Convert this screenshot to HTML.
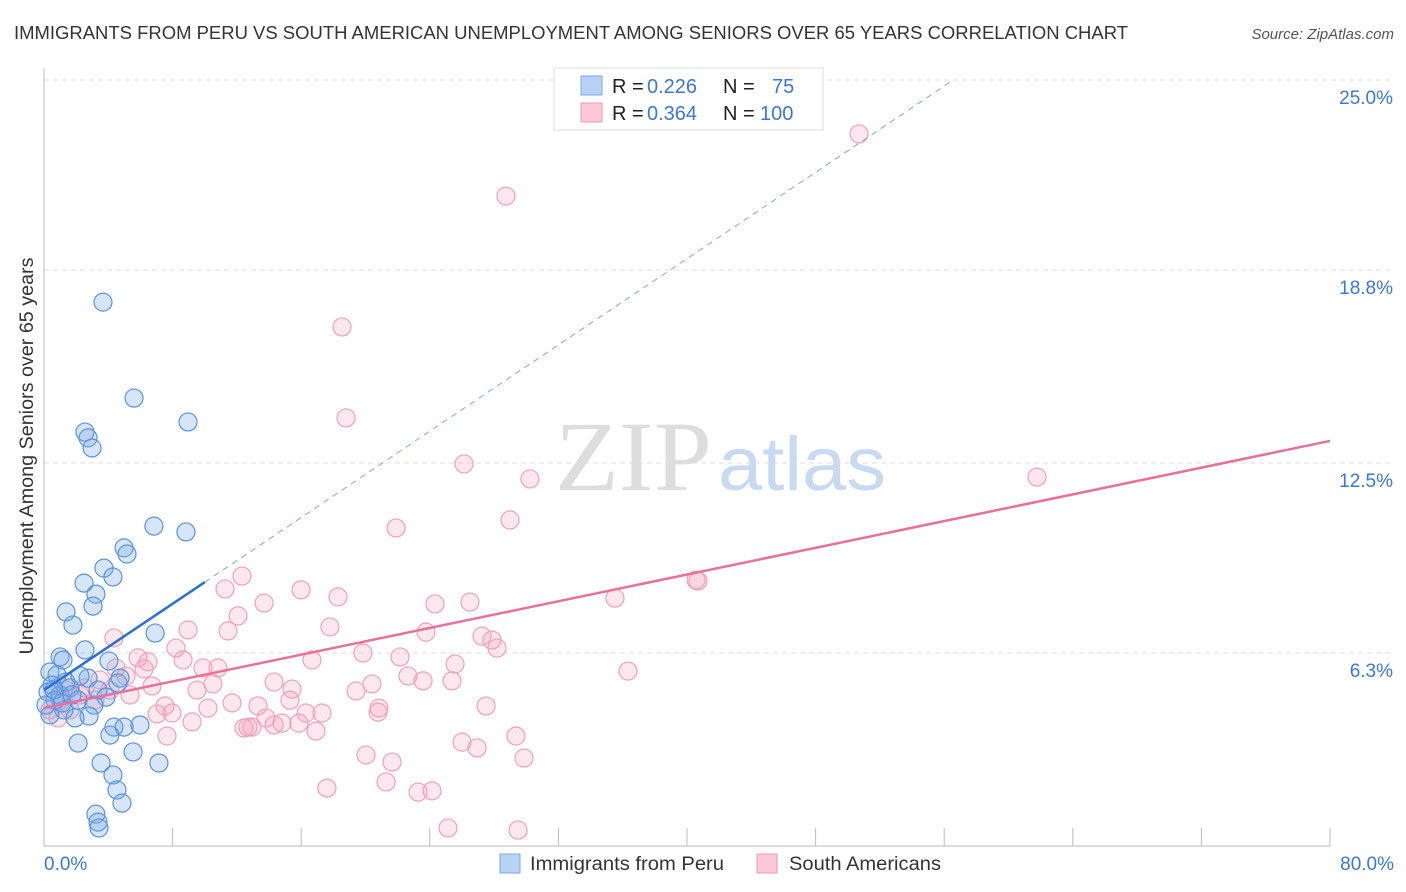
<!DOCTYPE html>
<html><head><meta charset="utf-8"><style>
body{margin:0;background:#fff;font-family:"Liberation Sans",sans-serif;}
svg{display:block}
</style></head><body>
<svg id="chart" width="1406" height="892" xmlns="http://www.w3.org/2000/svg">
<text x="14" y="39" font-size="18" textLength="1114" lengthAdjust="spacingAndGlyphs" fill="#333">IMMIGRANTS FROM PERU VS SOUTH AMERICAN UNEMPLOYMENT AMONG SENIORS OVER 65 YEARS CORRELATION CHART</text>
<text x="1394" y="39" font-size="15" fill="#555" font-style="italic" text-anchor="end">Source: ZipAtlas.com</text>
<g>
<text x="555" y="490" font-size="100" textLength="157" lengthAdjust="spacingAndGlyphs" font-family="Liberation Serif,serif" fill="#ddd">ZIP</text>
<text x="718" y="490" font-size="76" textLength="168" lengthAdjust="spacingAndGlyphs" fill="#c8daf2">atlas</text>
</g>
<g id="grid"></g>
<line x1="44" y1="68" x2="44" y2="846" stroke="#bbb"/>
<line x1="44" y1="846" x2="1330" y2="846" stroke="#bbb"/>
<g id="pts"></g>
<g id="lines"></g>
<text x="33" y="456" font-size="19" textLength="397" lengthAdjust="spacingAndGlyphs" fill="#333" transform="rotate(-90 33 456)" text-anchor="middle">Unemployment Among Seniors over 65 years</text>
<text x="44" y="870" font-size="19" fill="#3a78d4">0.0%</text>
<text x="1394" y="870" font-size="19" fill="#3a78d4" text-anchor="end">80.0%</text>
<g>
<rect x="554" y="68" width="269" height="62" fill="#fff" stroke="#ddd"/>
<rect x="581" y="76" width="21" height="19" fill="#b8d2f5" stroke="#7aa8e6"/>
<rect x="581" y="103" width="21" height="19" fill="#fbc8d8" stroke="#ee9ab4"/>
<text y="93" font-size="20" fill="#222"><tspan x="612">R =</tspan><tspan x="647" fill="#3a78d4">0.226</tspan><tspan x="723">N =</tspan><tspan x="772" fill="#3a78d4">75</tspan></text>
<text y="120" font-size="20" fill="#222"><tspan x="612">R =</tspan><tspan x="647" fill="#3a78d4">0.364</tspan><tspan x="723">N =</tspan><tspan x="760" fill="#3a78d4">100</tspan></text>
</g>
<g>
<rect x="500" y="854" width="20" height="19" fill="#b8d2f5" stroke="#7aa8e6"/>
<text x="530" y="870" font-size="19" textLength="194" lengthAdjust="spacingAndGlyphs" fill="#333">Immigrants from Peru</text>
<rect x="757" y="854" width="20" height="19" fill="#fbc8d8" stroke="#ee9ab4"/>
<text x="789" y="870" font-size="19" textLength="152" lengthAdjust="spacingAndGlyphs" fill="#333">South Americans</text>
</g>
</svg>
<script>
const yTicks=[25,18.8,12.5,6.3];
const yTickLabels=["25.0%","18.8%","12.5%","6.3%"];
const xTicks=[0,8,16,24,32,40,48,56,64,72,80];
const blueX=[3.67,5.6,8.96,2.55,2.74,2.99,6.84,8.83,4.98,5.16,3.73,2.49,4.29,3.23,3.05,1.37,1.8,6.91,2.55,1.0,1.18,4.04,0.37,0.81,2.74,4.73,0.5,1.62,3.36,4.6,1.0,3.86,2.12,3.11,1.24,2.8,1.93,0.37,4.35,5.97,4.98,4.1,2.12,5.54,3.55,7.15,4.29,4.54,4.85,3.23,3.36,3.42,0.25,0.68,0.12,1.37,2.24,0.62,1.12,1.74];
const blueY=[17.75,14.62,13.84,13.51,13.32,12.99,10.44,10.25,9.73,9.53,9.07,8.58,8.78,8.22,7.83,7.64,7.21,6.95,6.4,6.17,6.07,6.04,5.68,5.58,5.48,5.48,5.25,5.16,5.09,5.32,4.93,4.86,4.76,4.6,4.44,4.24,4.18,4.28,3.88,3.95,3.88,3.62,3.36,3.07,2.71,2.71,2.32,1.83,1.4,1.04,0.78,0.59,5.03,4.76,4.6,5.35,5.55,5.09,4.67,4.93];
const pinkX=[50.7,28.74,18.54,18.79,26.13,30.23,61.77,28.99,21.9,40.56,40.68,35.52,12.32,11.26,15.99,18.29,13.69,24.32,26.5,12.07,17.79,8.96,11.45,4.35,23.76,27.25,27.87,28.18,8.21,5.85,6.47,8.65,16.67,19.84,22.15,25.57,36.33,4.48,6.22,9.89,10.82,22.64,23.58,25.38,14.31,20.4,10.51,3.48,5.1,6.72,2.55,9.52,15.43,19.41,5.35,15.3,11.7,13.31,10.2,7.53,27.5,20.84,20.78,7.03,7.96,16.3,17.29,13.81,9.21,14.81,15.86,12.69,14.31,12.44,12.94,16.92,7.65,26.0,26.94,29.36,20.03,21.65,29.86,17.6,21.28,23.27,24.14,25.13,29.49,1.0,1.62,0.37,2.24,3.17,1.37,4.1,0.87];
const pinkY=[23.24,21.21,16.94,13.97,12.47,11.98,12.04,10.64,10.38,8.68,8.65,8.09,8.81,8.39,8.36,8.13,7.93,7.9,7.96,7.51,7.15,7.05,7.02,6.79,6.98,6.85,6.72,6.46,6.46,6.14,6.01,6.07,6.07,6.3,6.17,5.94,5.71,5.81,5.78,5.81,5.81,5.55,5.39,5.39,5.35,5.29,5.29,5.42,5.55,5.22,5.16,5.09,5.12,5.06,4.93,4.76,4.67,4.57,4.5,4.57,4.57,4.5,4.37,4.31,4.34,4.34,4.34,4.18,4.05,4.01,4.01,3.88,3.95,3.85,3.88,3.75,3.59,3.39,3.2,3.59,2.97,2.74,2.87,1.89,2.09,1.76,1.8,0.59,0.52,4.76,4.44,4.44,4.93,4.76,5.09,5.09,4.18];
const blueTrend=[5.09,0.352];
const pinkTrend=[4.5,0.109];
const NS='http://www.w3.org/2000/svg';
const sx=v=>44+v*16.075;
const sy=v=>846-v*30.64;
function mk(tag,attrs,parent){const e=document.createElementNS(NS,tag);for(const k in attrs)e.setAttribute(k,attrs[k]);parent.appendChild(e);return e;}
const grid=document.getElementById('grid');
const svg=document.getElementById('chart');
yTicks.forEach((t,i)=>{
 const l=mk('line',{x1:44,x2:1394,y1:sy(t),y2:sy(t),stroke:'#ddd','stroke-dasharray':'5,4'},grid);
 
 
 const tx=mk('text',{x:1393,y:sy(t)+24,'font-size':19,fill:'#3a78d4','text-anchor':'end'},svg);
 tx.textContent=yTickLabels[i];
 
 
});
xTicks.forEach(t=>{
 const l=mk('line',{x1:sx(t),x2:sx(t),y1:828,y2:846,stroke:'#bbb'},grid);
 
 
});
const pts=document.getElementById('pts');
pinkX.forEach((x,i)=>{
 const c=mk('circle',{cx:sx(x),cy:sy(pinkY[i]),r:9,fill:'rgba(244,160,188,0.25)',stroke:'#f0a0ba','stroke-width':1.2},pts);
 
 
});
blueX.forEach((x,i)=>{
 const c=mk('circle',{cx:sx(x),cy:sy(blueY[i]),r:9,fill:'rgba(120,168,232,0.3)',stroke:'#5a92dc','stroke-width':1.2},pts);
 
 
});
const lines=document.getElementById('lines');
const xEndDash=(25-blueTrend[0])/blueTrend[1];
const d=mk('line',{x1:sx(10),y1:sy(blueTrend[0]+blueTrend[1]*10),x2:sx(xEndDash),y2:sy(25),stroke:'#7aa8e6','stroke-width':1,'stroke-dasharray':'6,5'},lines);


const b=mk('line',{x1:sx(0),y1:sy(blueTrend[0]),x2:sx(10),y2:sy(blueTrend[0]+blueTrend[1]*10),stroke:'#2a6fd6','stroke-width':2.5},lines);


const p=mk('line',{x1:sx(0),y1:sy(pinkTrend[0]),x2:sx(80),y2:sy(pinkTrend[0]+pinkTrend[1]*80),stroke:'#e8709a','stroke-width':2.5},lines);


</script>
</body></html>
